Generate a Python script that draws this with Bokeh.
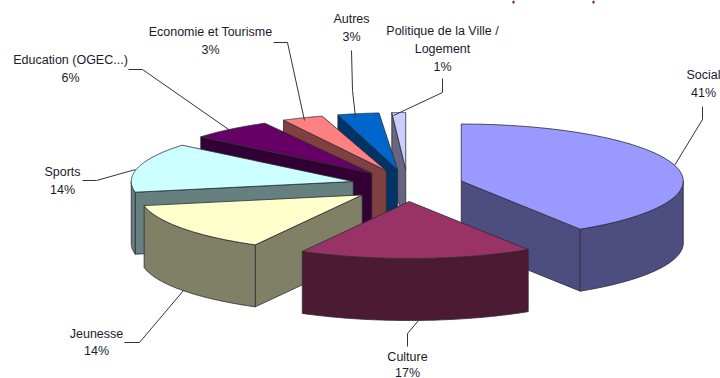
import numpy as np
from bokeh.core.properties import value
from bokeh.embed import file_html
from bokeh.models import Range1d
from bokeh.plotting import figure
from bokeh.resources import INLINE

# Budget shares in percent, clockwise from twelve o'clock
categories = ["Social", "Culture", "Jeunesse", "Sports", "Education (OGEC...)",
              "Economie et Tourisme", "Autres", "Politique de la Ville /\nLogement"]
shares = [41, 17, 14, 14, 6, 3, 3, 1]
top_colors = ["#9999FF", "#993366", "#FFFFCC", "#CCFFFF", "#660066", "#FF8080", "#0066CC", "#CCCCFF"]
wall_colors = ["#4D4D80", "#4D1A33", "#808066", "#668080", "#330033", "#804040", "#003366", "#666680"]

# Label anchors (centre x, centre y of first line), line spacing and leader polylines
label_pos = [(703, 74), (407, 356), (96, 333), (62, 171), (70, 59), (210, 31), (351, 18), (442, 30)]
line_gap = [18, 16, 17, 18, 18, 18, 18, 18]
leaders = [
    [(702, 106), (702, 119), (674, 165)],
    [(407, 346), (407, 333), (418, 320)],
    [(124, 342), (139, 342), (183, 290)],
    [(82, 180), (96, 180), (135, 169)],
    [(128, 69), (142, 69), (231, 131)],
    [(273, 42), (287, 42), (304, 120)],
    [(351, 50), (352, 90), (355, 117)],
    [(442, 78), (442, 92), (393, 115)],
]
# Clipped descenders of the page heading above the chart
heading_marks = [513, 593]

# Projection of the tilted pie
CX, CY = 407, 185
RX, RY = 222, 57
EXPLODE_X, EXPLODE_Y = 56, 16
DEPTH = 62
OUTLINE = "#2b2b33"
FONT = "Liberation Sans"

p = figure(width=720, height=378, output_backend="svg", toolbar_location=None,
           x_range=Range1d(0, 720), y_range=Range1d(378, 0),
           min_border=0, outline_line_color=None, background_fill_color="white")
p.xaxis.visible = False
p.yaxis.visible = False
p.xgrid.visible = False
p.ygrid.visible = False

# The rounded shares add up to 99 %: every slice sweeps exactly its own share,
# and the left-over degree sliver is spread ahead of the three smallest slices.
sweeps = np.array(shares) * 3.6
leftover = 360 - sweeps.sum()
small = [5, 6, 7]
start = 0.0
spans = []
for i, sweep in enumerate(sweeps):
    if i in small:
        start += leftover / len(small)
    spans.append((np.radians(start), np.radians(start + sweep)))
    start += sweep


def rim(ax, ay, a):
    return ax + RX * np.sin(a), ay - RY * np.cos(a)


anchors = []
for a0, a1 in spans:
    mid = (a0 + a1) / 2
    anchors.append((CX + EXPLODE_X * np.sin(mid), CY - EXPLODE_Y * np.cos(mid)))

# Back slices first, so nearer ones paint over them
paint_order = [7, 6, 5, 4, 3, 0, 2, 1]
for i in paint_order:
    a0, a1 = spans[i]
    ax, ay = anchors[i]
    wall = dict(fill_color=wall_colors[i], line_color=OUTLINE, line_width=0.8)

    # Radial wall facing the viewer
    edge = None
    if a0 > np.pi:
        edge = a0
    elif a1 < np.pi:
        edge = a1
    if edge is not None:
        ex, ey = rim(ax, ay, edge)
        p.patch([ax, ex, ex, ax], [ay, ey, ey + DEPTH, ay + DEPTH], **wall)

    # Outer wall on the front half of the rim
    lo, hi = max(a0, np.pi / 2), min(a1, 3 * np.pi / 2)
    if hi > lo:
        arc = np.linspace(lo, hi, 60)
        rx_, ry_ = rim(ax, ay, arc)
        p.patch(np.r_[rx_, rx_[::-1]], np.r_[ry_, ry_[::-1] + DEPTH], **wall)

    # Top face
    arc = np.linspace(a0, a1, 80)
    tx, ty = rim(ax, ay, arc)
    p.patch(np.r_[ax, tx], np.r_[ay, ty], fill_color=top_colors[i],
            line_color=OUTLINE, line_width=0.8)

for pts in leaders:
    xs, ys = zip(*pts)
    p.line(xs, ys, line_color="#333333", line_width=1)

p.segment(heading_marks, [0] * 2, heading_marks, [3] * 2, line_color="#6a2030", line_width=2)

for name, share, (lx, ly), gap in zip(categories, shares, label_pos, line_gap):
    lines = name.split("\n") + [f"{share}%"]
    p.text([lx] * len(lines), [ly + gap * k for k in range(len(lines))], text=lines,
           text_font=value(FONT), text_font_size="12.5px", text_color="#1a1a2a",
           text_align="center", text_baseline="middle")

open("out.html", "w").write(file_html(p, INLINE))
